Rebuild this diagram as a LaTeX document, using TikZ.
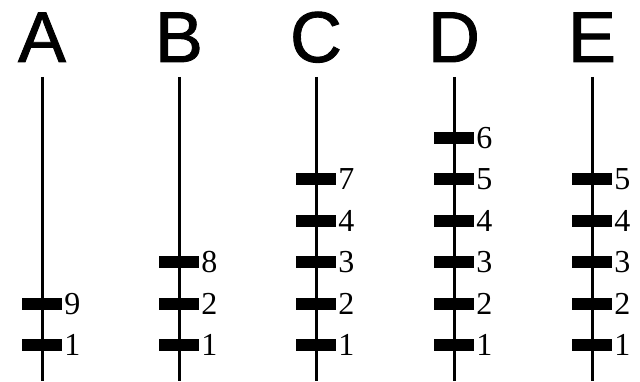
\documentclass[tikz,border=0pt]{standalone}
\usepackage{fontspec}
\setmainfont{Liberation Serif}
\newfontfamily\lettersans[FakeBold=1.2]{Liberation Sans}
\usepackage{tikz}
\usetikzlibrary{
  positioning
}
\definecolor{chromcolor}{RGB}{0, 0, 0}
\definecolor{labelcolor}{RGB}{0, 0, 0}
\tikzset{
chromline/.style={
  draw=chromcolor,
  line width=3pt
},
bandblock/.style={
  fill=chromcolor,
  minimum width=40pt,
  minimum height=12pt,
  inner sep=0pt
},
bandlabel/.style={
  font=\fontsize{32}{36}\selectfont,
  text=labelcolor,
  inner sep=0pt
},
titlelabel/.style={
  font=\lettersans\fontsize{72}{80}\selectfont,
  text=labelcolor,
  anchor=base
}
}

\begin{document}
\begin{tikzpicture}[x=1pt,y=1pt]
  \useasboundingbox (0,0) rectangle (640,382);
  \foreach \name/\xpos/\bands in {A/42/{1,9}, B/179/{1,2,8}, C/316/{1,2,3,4,7}, D/454/{1,2,3,4,5,6}, E/592/{1,2,3,4,5}} {
    \node[titlelabel] (title\name) at (\xpos,320) {\name};
    \coordinate (top\name) at (\xpos,305);
    \coordinate (bottom\name) at (\xpos,1);
    \draw[chromline] (top\name) -- (bottom\name);
    \foreach \lbl [count=\i] in \bands {
      \node[bandblock] (band\name\i) at (\xpos,{37+41.4*(\i-1)}) {};
      \node[bandlabel, right=2pt of band\name\i] (label\name\i) {\lbl};
    }
  }
\end{tikzpicture}
\end{document}
